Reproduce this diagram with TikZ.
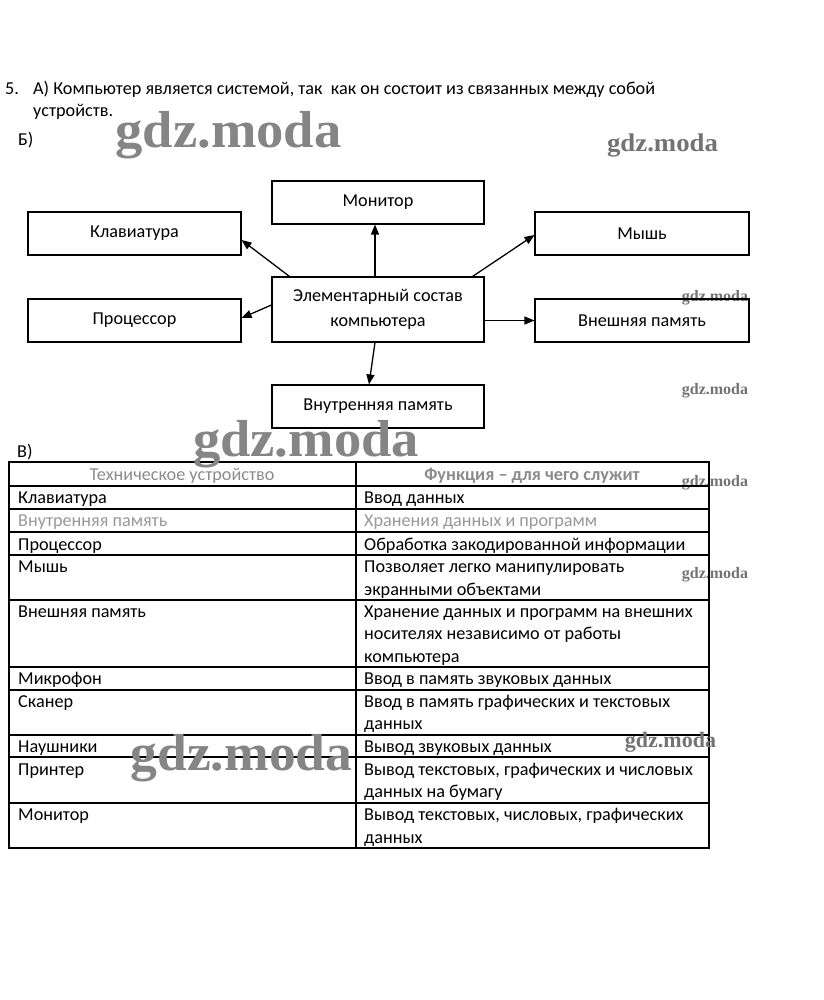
\documentclass[tikz,border=0pt]{standalone}
\usepackage{fontspec}
\setmainfont{Carlito}
\newfontfamily\wmfont{Liberation Serif}
\usetikzlibrary{arrows.meta,calc}
\newcommand{\wmtext}[1]{\scalebox{#1}[1]{gdz.moda}}
\begin{document}
\begin{tikzpicture}[x=1pt,y=-1pt,
  font=\fontsize{18.2}{22.5}\selectfont,
  box/.style={draw, line width=1.1pt, inner sep=0pt, align=center},
  arr/.style={-{Triangle[length=10pt,width=8pt]}, line width=1.3pt},
  tl/.style={anchor=base west, inner sep=0pt},
  tc/.style={anchor=base, inner sep=0pt},
  faded/.style={text=black!40},
  wmbig/.style={anchor=base, font=\wmfont\bfseries\fontsize{52}{52}\selectfont, text=black!48, inner sep=0pt},
  wmmid/.style={anchor=base, font=\wmfont\bfseries\fontsize{25.5}{25.5}\selectfont, text=black!55, inner sep=0pt},
  wmsmall/.style={anchor=base, font=\wmfont\bfseries\fontsize{16}{16}\selectfont, text=black!55, inner sep=0pt},
  tline/.style={line width=1.1pt}]
\useasboundingbox[fill=white] (0,0) rectangle (823,1000);

% watermarks
\node[wmbig] (wm1) at (228.5,148) {\wmtext{1.05}};
\node[wmmid] (wm2) at (662.5,152) {\wmtext{1.05}};
\node[wmsmall] (wm3) at (715,301) {\wmtext{1.0}};
\node[wmsmall] (wm4) at (715,394) {\wmtext{1.0}};
\node[wmsmall] (wm5) at (715,486) {\wmtext{1.0}};
\node[wmsmall] (wm6) at (715,578) {\wmtext{1.0}};

% heading text
\node[tl] (n5) at (5,95) {5.};
\node[tl] (ta1) at (33,95) {А) Компьютер является системой, так\ \ как он состоит из связанных между собой};
\node[tl] (ta2) at (33,117) {устройств.};
\node[tl] (tb) at (18,146) {Б)};

% diagram
\node[box, minimum width=212pt, minimum height=43pt] (mon) at (378,202.5) {Монитор};
\node[box, minimum width=213pt, minimum height=43pt] (klav) at (134.5,233.5) {Клавиатура};
\node[box, minimum width=214pt, minimum height=43pt] (mouse) at (642,233.5) {Мышь};
\node[box, minimum width=212pt, minimum height=65pt] (cent) at (378,309.5) {Элементарный состав\\[2pt]компьютера};
\node[box, minimum width=213pt, minimum height=43pt] (proc) at (134.5,320.5) {Процессор};
\node[box, minimum width=214pt, minimum height=43pt] (ext) at (642,320.5) {Внешняя память};
\node[box, minimum width=212pt, minimum height=43pt] (int) at (378,406.5) {Внутренняя память};

\draw[arr] ([xshift=-3pt]cent.north) -- ([xshift=-3pt]mon.south);
\draw[arr] ([xshift=18pt]cent.north west) -- ([yshift=-6.5pt]klav.east);
\draw[arr] ([yshift=4.5pt]cent.west) -- ([yshift=2.5pt]proc.east);
\draw[arr] ([xshift=-12pt]cent.north east) -- ([yshift=-1.5pt]mouse.west);
\draw[arr] (cent.east |- ext.west) -- (ext.west);
\draw[arr] ([xshift=-3pt]cent.south) -- ([xshift=-9pt]int.north);

% table
\node[tl] (tv) at (17,457) {В)};
\draw[tline] (9,462) rectangle (709,848);
\draw[tline] (356,462) -- (356,848);
\foreach \yy in {486,509,532,555,600,667,690,735,757,803}
  \draw[tline] (9,\yy) -- (709,\yy);

\node[tc, text=black!45] (h1) at (182,480) {Техническое устройство};
\node[tc, text=black!45, font=\fontsize{18.2}{22.5}\selectfont\bfseries] (h2) at (532,480) {Функция – для чего служит};

\node[tl] (r1a) at (18,503) {Клавиатура};
\node[tl] (r1b) at (364,503) {Ввод данных};
\node[tl, faded] (r2a) at (18,526) {Внутренняя память};
\node[tl, faded] (r2b) at (364,526) {Хранения данных и программ};
\node[tl] (r3a) at (18,550) {Процессор};
\node[tl] (r3b) at (364,550) {Обработка закодированной информации};
\node[tl] (r4a) at (18,572) {Мышь};
\node[tl] (r4b) at (364,572) {Позволяет легко манипулировать};
\node[tl] (r4c) at (364,595) {экранными объектами};
\node[tl] (r5a) at (18,617) {Внешняя память};
\node[tl] (r5b) at (364,617) {Хранение данных и программ на внешних};
\node[tl] (r5c) at (364,639) {носителях независимо от работы};
\node[tl] (r5d) at (364,662) {компьютера};
\node[tl] (r6a) at (18,684) {Микрофон};
\node[tl] (r6b) at (364,684) {Ввод в память звуковых данных};
\node[tl] (r7a) at (18,707) {Сканер};
\node[tl] (r7b) at (364,707) {Ввод в память графических и текстовых};
\node[tl] (r7c) at (364,729) {данных};
\node[tl] (r8a) at (18,752) {Наушники};
\node[tl] (r8b) at (364,752) {Вывод звуковых данных};
\node[tl] (r9a) at (18,775) {Принтер};
\node[tl] (r9b) at (364,775) {Вывод текстовых, графических и числовых};
\node[tl] (r9c) at (364,797) {данных на бумагу};
\node[tl] (r10a) at (18,820) {Монитор};
\node[tl] (r10b) at (364,820) {Вывод текстовых, числовых, графических};
\node[tl] (r10c) at (364,843) {данных};

% watermarks over table
\node[wmbig] (wm7) at (306,456) {\wmtext{1.05}};
\node[wmbig] (wm8) at (241.5,770) {\wmtext{1.03}};
\node[wmmid, font=\wmfont\bfseries\fontsize{22}{22}\selectfont] (wm9) at (670.5,747) {\wmtext{1.0}};
\end{tikzpicture}
\end{document}
